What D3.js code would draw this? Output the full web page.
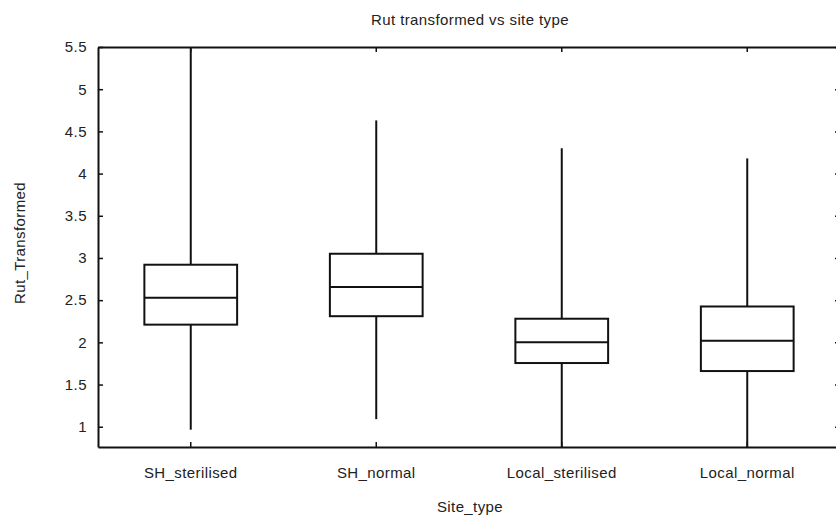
<!DOCTYPE html>
<html>
<head>
<meta charset="utf-8">
<script src="https://cdn.jsdelivr.net/npm/d3@7"></script>
<style>
  html, body { margin: 0; padding: 0; background: #fff; }
  svg text { font-family: "Liberation Sans", Arial, sans-serif; fill: #222; }
</style>
</head>
<body>
<svg id="chart" width="836" height="516"></svg>
<script>
const categories = ["SH_sterilised", "SH_normal", "Local_sterilised", "Local_normal"];
const whiskerLow  = [0.965, 1.09, 0.70, 0.70];
const q1Values    = [2.21, 2.31, 1.755, 1.66];
const medians     = [2.53, 2.655, 2.00, 2.02];
const q3Values    = [2.92, 3.05, 2.28, 2.425];
const whiskerHigh = [5.60, 4.63, 4.30, 4.18];
const yTicks = [1, 1.5, 2, 2.5, 3, 3.5, 4, 4.5, 5, 5.5];
const yTickLabels = ["1", "1.5", "2", "2.5", "3", "3.5", "4", "4.5", "5", "5.5"];
const titleText = "Rut transformed vs site type";
const xTitle = "Site_type";
const yTitle = "Rut_Transformed";

const rows = categories.map((c, i) => ({
  cat: c, lo: whiskerLow[i], q1: q1Values[i], med: medians[i], q3: q3Values[i], hi: whiskerHigh[i]
}));

const svg = d3.select("#chart");
const pLeft = 98, pRight = 840, pTop = 47, pBottom = 447;

const x = d3.scaleBand().domain(categories).range([pLeft, pRight]).paddingInner(0).paddingOuter(0);
const y = d3.scaleLinear().domain([0.76, 5.5]).range([pBottom, pTop]);

svg.append("defs").append("clipPath").attr("id", "clip")
  .append("rect").attr("x", pLeft).attr("y", pTop).attr("width", pRight - pLeft).attr("height", pBottom - pTop);

const plot = svg.append("g").attr("clip-path", "url(#clip)");
const bw = x.bandwidth() * 0.5;

const g = plot.selectAll("g.box").data(rows).join("g").attr("class", "box");
const cx = d => x(d.cat) + x.bandwidth() / 2;

g.append("line")
  .attr("x1", cx).attr("x2", cx)
  .attr("y1", d => y(d.q3)).attr("y2", d => y(d.hi))
  .attr("stroke", "#111").attr("stroke-width", 2);
g.append("line")
  .attr("x1", cx).attr("x2", cx)
  .attr("y1", d => y(d.q1)).attr("y2", d => y(d.lo))
  .attr("stroke", "#111").attr("stroke-width", 2);
g.append("rect")
  .attr("x", d => cx(d) - bw / 2).attr("width", bw)
  .attr("y", d => y(d.q3)).attr("height", d => y(d.q1) - y(d.q3))
  .attr("fill", "none").attr("stroke", "#111").attr("stroke-width", 2);
g.append("line")
  .attr("x1", d => cx(d) - bw / 2).attr("x2", d => cx(d) + bw / 2)
  .attr("y1", d => y(d.med)).attr("y2", d => y(d.med))
  .attr("stroke", "#111").attr("stroke-width", 2);

// Axes (ticks inward)
const axStyle = sel => {
  sel.select(".domain").attr("stroke", "#111").attr("stroke-width", 2);
  sel.selectAll(".tick line").attr("stroke", "#111").attr("stroke-width", 1.5);
};

const yAxis = svg.append("g").attr("transform", `translate(${pLeft},0)`)
  .call(d3.axisLeft(y).tickValues(yTicks).tickFormat((d, i) => yTickLabels[i]).tickSizeInner(-5).tickSizeOuter(0).tickPadding(11));
axStyle(yAxis);
yAxis.selectAll(".tick text").attr("font-size", 15).attr("fill", "#222").attr("font-family", null).attr("letter-spacing", "0.5px");

const yAxisR = svg.append("g").attr("transform", `translate(${pRight},0)`)
  .call(d3.axisRight(y).tickValues(yTicks).tickFormat("").tickSizeInner(-5).tickSizeOuter(0));
axStyle(yAxisR);

const xAxis = svg.append("g").attr("transform", `translate(0,${pBottom})`)
  .call(d3.axisBottom(x).tickSizeInner(-5).tickSizeOuter(0).tickPadding(20));
axStyle(xAxis);
xAxis.selectAll(".tick text").attr("font-size", 15).attr("fill", "#222").attr("font-family", null).attr("letter-spacing", "0.4px");

const xAxisT = svg.append("g").attr("transform", `translate(0,${pTop})`)
  .call(d3.axisTop(x).tickFormat("").tickSizeInner(-5).tickSizeOuter(0));
axStyle(xAxisT);

// Titles
svg.append("text").attr("x", 470).attr("y", 25).attr("text-anchor", "middle")
  .attr("font-size", 15).attr("letter-spacing", "0.4px").text(titleText);
svg.append("text").attr("x", 470).attr("y", 512).attr("text-anchor", "middle")
  .attr("font-size", 15).attr("letter-spacing", "0.4px").text(xTitle);
svg.append("text").attr("transform", "translate(25,243) rotate(-90)").attr("text-anchor", "middle")
  .attr("font-size", 15).attr("letter-spacing", "0.4px").text(yTitle);
</script>
</body>
</html>
